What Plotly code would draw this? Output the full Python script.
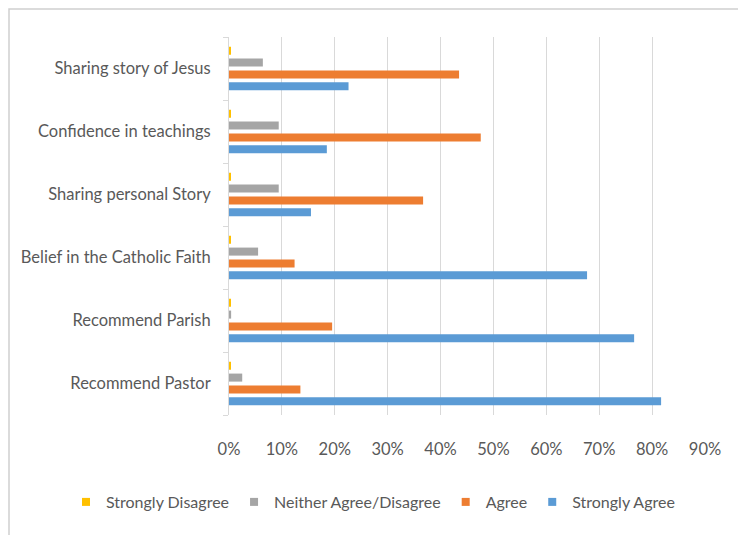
import plotly.graph_objects as go

categories = ["Recommend Pastor", "Recommend Parish", "Belief in the Catholic Faith",
              "Sharing personal Story", "Confidence in teachings", "Sharing story of Jesus"]
strongly_agree = [0.817, 0.766, 0.677, 0.155, 0.185, 0.226]
agree = [0.135, 0.195, 0.124, 0.367, 0.476, 0.435]
neither = [0.025, 0.004, 0.055, 0.094, 0.094, 0.064]
strongly_disagree = [0.003, 0.003, 0.003, 0.003, 0.003, 0.003]
x_ticks = [0, 0.1, 0.2, 0.3, 0.4, 0.5, 0.6, 0.7, 0.8, 0.9]

series = [
    ("Strongly Agree", strongly_agree, "#5B9BD5"),
    ("Agree", agree, "#ED7D31"),
    ("Neither Agree/Disagree", neither, "#A5A5A5"),
    ("Strongly Disagree", strongly_disagree, "#FFC000"),
]

fig = go.Figure()
for name, vals, color in series:
    fig.add_trace(go.Bar(y=categories, x=vals, name=name, orientation="h", showlegend=False,
                         marker=dict(color=color, line=dict(width=0))))
# legend entries (small square markers, Excel style)
for name, vals, color in reversed(series):
    fig.add_trace(go.Scatter(x=[None], y=[None], mode="markers", name=name,
                             marker=dict(symbol="square", size=8, color=color)))

# page offset caused by the default body margin
OFF = 8
W, H = 746 - OFF, 535 - OFF
# plot area in page pixels
PL, PR, PT, PB = 229, 705, 37, 415
L, T = PL - OFF, PT - OFF
R, B = W - (PR - OFF), H - (PB - OFF)
pw, ph = PR - PL, PB - PT

def px(x):
    return (x - PL) / pw

def py(y):
    return (PB - y) / ph

font = dict(family="Lato", size=16.5, color="#595959")
fig.update_layout(
    width=W, height=H,
    margin=dict(l=L, r=R, t=T, b=B, pad=0, autoexpand=False),
    paper_bgcolor="white", plot_bgcolor="white",
    barmode="group", bargap=0.25, bargroupgap=0.32,
    font=font,
    showlegend=True,
    legend=dict(orientation="h", traceorder="normal", xref="paper", x=px(66),
                xanchor="left", yref="paper", y=py(502), yanchor="middle",
                font=dict(family="Lato", size=16, color="#595959"), itemwidth=30,
                bgcolor="rgba(0,0,0,0)"),
    xaxis=dict(range=[0, 0.9], tickvals=x_ticks, tickformat=".0%", showgrid=True,
               gridcolor="#D9D9D9", gridwidth=1, zeroline=False, showline=False,
               ticks="", ticklabelstandoff=22, fixedrange=True, automargin=False),
    yaxis=dict(type="category", categoryorder="array", categoryarray=categories,
               showgrid=False, showline=True, linecolor="#D9D9D9",
               ticks="outside", tickson="boundaries", ticklen=5, tickcolor="#D9D9D9",
               ticklabelstandoff=14, fixedrange=True, automargin=False),
    shapes=[dict(type="rect", xref="paper", yref="paper",
                 x0=px(9), x1=px(740), y0=py(545), y1=py(9),
                 line=dict(color="#CFCFCF", width=1.5), fillcolor="rgba(0,0,0,0)", layer="below")],
)

fig.write_html("out.html")
